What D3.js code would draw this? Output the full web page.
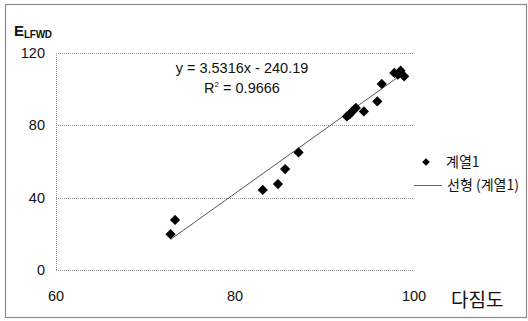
<!DOCTYPE html>
<html>
<head>
<meta charset="utf-8">
<script src="https://cdn.jsdelivr.net/npm/d3@7"></script>
<style>
  html, body { margin: 0; padding: 0; background: #fff; }
  svg { display: block; }
  text { font-family: "Liberation Sans", Arial, sans-serif; fill: #111; }
  .kr { font-family: "Noto Sans CJK KR", sans-serif; }
</style>
</head>
<body>
<svg id="chart" width="528" height="321"></svg>
<script>
// Compaction degree (다짐도) vs. E_LFWD measurements
const compaction = [72.8, 73.3, 83.1, 84.8, 85.6, 87.1, 92.5, 92.8, 93.1, 93.5, 94.4, 95.9, 96.4, 97.8, 98.2, 98.5, 98.9];
const elfwd      = [19.8, 27.7, 44.3, 47.5, 55.8, 65.0, 84.9, 86.0, 87.7, 89.6, 87.7, 93.2, 102.9, 109.0, 108.0, 110.2, 107.1];

// Linear trend as reported on the chart
const slope = 3.5316;
const intercept = -240.19;
const rSquared = 0.9666;

const xTicks = [60, 80, 100];
const yTicks = [0, 40, 80, 120];

const svg = d3.select("#chart");

// outer frame
svg.append("rect")
  .attr("x", 5.5).attr("y", 4.5)
  .attr("width", 521).attr("height", 313)
  .attr("fill", "none").attr("stroke", "#8a8a8a").attr("stroke-width", 1.2);

const x = d3.scaleLinear().domain([60, 100]).range([56, 414]);
const y = d3.scaleLinear().domain([0, 120]).range([270, 53]);

// horizontal dotted gridlines
svg.append("g")
  .selectAll("line")
  .data(yTicks)
  .join("line")
  .attr("x1", x(60)).attr("x2", x(100))
  .attr("y1", d => Math.round(y(d)) + 0.5).attr("y2", d => Math.round(y(d)) + 0.5)
  .attr("stroke", "#9a9a9a").attr("stroke-dasharray", "1,1");

// left dotted axis line
svg.append("line")
  .attr("x1", x(60) + 0.5).attr("x2", x(60) + 0.5)
  .attr("y1", y(120)).attr("y2", y(0))
  .attr("stroke", "#9a9a9a").attr("stroke-dasharray", "1,1");

// y tick labels
svg.append("g")
  .selectAll("text")
  .data(yTicks)
  .join("text")
  .attr("x", 45).attr("y", d => y(d))
  .attr("dy", "0.35em")
  .attr("text-anchor", "end")
  .attr("font-size", 14.5)
  .text(d => d);

// x tick labels (below the plot area)
svg.append("g")
  .selectAll("text")
  .data(xTicks)
  .join("text")
  .attr("x", d => x(d)).attr("y", 296)
  .attr("dy", "0.35em")
  .attr("text-anchor", "middle")
  .attr("font-size", 14.5)
  .text(d => d);

// axis titles
const yTitle = svg.append("text").attr("x", 14).attr("y", 36).attr("font-weight", "bold");
yTitle.append("tspan").attr("font-size", 15).text("E");
yTitle.append("tspan").attr("font-size", 10).attr("dy", 2).attr("letter-spacing", -0.3).text("LFWD");

svg.append("text").attr("class", "kr")
  .attr("x", 451).attr("y", 300).attr("dy", "0.35em")
  .attr("font-size", 19).text("다짐도");

// trend line across the data range
const xMin = d3.min(compaction), xMax = d3.max(compaction);
svg.append("line")
  .attr("x1", x(xMin)).attr("y1", y(slope * xMin + intercept))
  .attr("x2", x(xMax)).attr("y2", y(slope * xMax + intercept))
  .attr("stroke", "#555").attr("stroke-width", 1);

// diamond markers
const diamond = d3.symbol().type(d3.symbolSquare).size(52);
svg.append("g")
  .selectAll("path")
  .data(compaction.map((c, i) => [c, elfwd[i]]))
  .join("path")
  .attr("d", diamond)
  .attr("transform", d => `translate(${x(d[0])},${y(d[1])}) rotate(45)`)
  .attr("fill", "#000");

// regression equation
const eq = svg.append("g").attr("text-anchor", "middle");
eq.append("text").attr("x", 242).attr("y", 68).attr("dy", "0.35em")
  .attr("font-size", 14.5).text(`y = ${slope}x - ${Math.abs(intercept)}`);
const r2 = eq.append("text").attr("x", 242).attr("y", 88).attr("dy", "0.35em").attr("font-size", 14.5);
r2.append("tspan").text("R");
r2.append("tspan").attr("font-size", 8).attr("dy", -6).text("2");
r2.append("tspan").attr("dy", 6).text(` = ${rSquared}`);

// legend
const lg = svg.append("g");
lg.append("path").attr("d", d3.symbol().type(d3.symbolSquare).size(30))
  .attr("transform", "translate(426,162) rotate(45)").attr("fill", "#000");
lg.append("text").attr("class", "kr").attr("x", 446).attr("y", 162).attr("dy", "0.35em")
  .attr("font-size", 14).text("계열1");
lg.append("line").attr("x1", 414).attr("x2", 442).attr("y1", 185.5).attr("y2", 185.5)
  .attr("stroke", "#666").attr("stroke-width", 1);
lg.append("text").attr("class", "kr").attr("x", 447).attr("y", 185).attr("dy", "0.35em")
  .attr("font-size", 14).text("선형 (계열1)");
</script>
</body>
</html>
